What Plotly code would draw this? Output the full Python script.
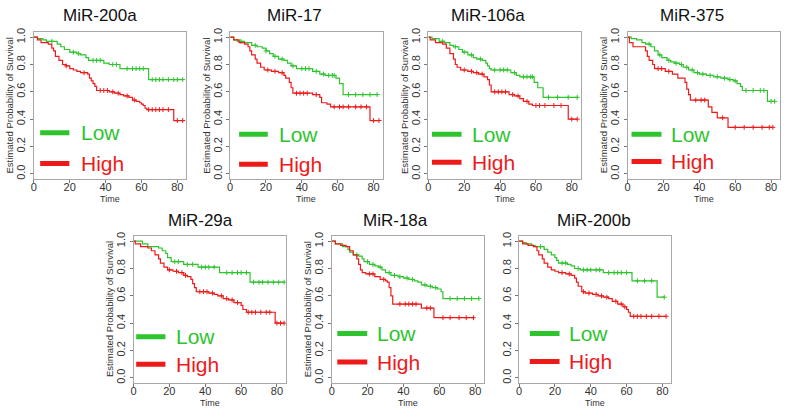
import plotly.graph_objects as go

W, H = 787, 411

titles = ["MiR-200a", "MiR-17", "MiR-106a", "MiR-375", "MiR-29a", "MiR-18a", "MiR-200b"]

# ---- Kaplan-Meier step data (time, survival) per panel ----
low_t = [
    [0, 2, 5, 7, 13, 15, 17, 20, 24, 26, 29, 30.5, 39, 42, 48, 64, 83],
    [0, 2, 4, 8, 12, 15, 18, 20, 22, 24, 27, 30, 32, 34, 37, 46, 50, 53, 59, 61, 63, 82],
    [0, 2, 6, 9, 12, 14, 17, 19, 22, 25, 27, 30, 32, 33, 34, 35, 46, 49, 51, 59, 61, 64, 83],
    [0, 2, 5, 8, 10, 13, 15, 17, 19, 22, 24, 26, 29, 31, 34, 37, 40, 44, 48, 52, 56, 59, 61, 63, 64, 78, 82],
    [0, 5, 8, 14, 16, 18, 19, 21, 28, 36, 48, 65, 84],
    [0, 2, 6, 9, 10, 12, 15, 17, 18, 21, 24, 26, 28, 30, 33, 37, 40, 43, 46, 48, 50, 53, 56, 59, 61, 62, 82],
    [0, 2, 4, 7, 9, 14, 16, 18, 20, 21, 22, 27, 29, 31, 34, 47, 63, 77, 81],
]
low_s = [
    [1, 0.99, 0.98, 0.97, 0.95, 0.93, 0.91, 0.89, 0.88, 0.87, 0.85, 0.83, 0.81, 0.80, 0.77, 0.69, 0.69],
    [1, 0.98, 0.97, 0.96, 0.94, 0.93, 0.92, 0.90, 0.88, 0.86, 0.84, 0.83, 0.81, 0.79, 0.77, 0.75, 0.73, 0.72, 0.70, 0.66, 0.58, 0.58],
    [1, 0.99, 0.97, 0.96, 0.94, 0.93, 0.91, 0.89, 0.87, 0.85, 0.84, 0.83, 0.81, 0.79, 0.77, 0.76, 0.74, 0.72, 0.71, 0.67, 0.63, 0.56, 0.56],
    [1, 0.99, 0.98, 0.96, 0.95, 0.93, 0.90, 0.87, 0.85, 0.83, 0.82, 0.81, 0.80, 0.78, 0.76, 0.74, 0.73, 0.72, 0.71, 0.70, 0.69, 0.68, 0.66, 0.64, 0.61, 0.53, 0.53],
    [1, 0.98, 0.96, 0.95, 0.93, 0.91, 0.88, 0.85, 0.83, 0.81, 0.77, 0.70, 0.70],
    [1, 0.98, 0.96, 0.94, 0.92, 0.90, 0.89, 0.87, 0.85, 0.83, 0.82, 0.81, 0.79, 0.77, 0.75, 0.74, 0.73, 0.72, 0.71, 0.70, 0.68, 0.67, 0.66, 0.65, 0.63, 0.58, 0.58],
    [1, 0.99, 0.98, 0.97, 0.96, 0.94, 0.92, 0.90, 0.88, 0.86, 0.84, 0.83, 0.82, 0.80, 0.79, 0.77, 0.71, 0.59, 0.59],
]
high_t = [
    [0, 2, 4, 8, 10, 11, 12, 14, 16, 18, 20, 22, 24, 26, 30, 31, 32, 33, 34, 35, 42, 45, 48, 50, 53, 55, 57, 59, 60, 61, 62, 63, 78, 83],
    [0, 2, 5, 8, 10, 11, 12, 14, 15, 17, 19, 23, 27, 30, 31, 33, 34, 35, 46, 50, 51, 54, 56, 78, 83],
    [0, 1, 4, 8, 10, 12, 14, 15, 16, 18, 22, 25, 28, 31, 33, 34, 35, 45, 48, 51, 53, 56, 58, 78, 83],
    [0, 1, 3, 10, 11, 12, 14, 15, 21, 25, 28, 32, 33, 34, 35, 45, 47, 50, 56, 81],
    [0, 1, 4, 8, 10, 12, 14, 15, 17, 19, 22, 25, 28, 30, 32, 33, 34, 35, 42, 45, 47, 50, 53, 56, 60, 61, 63, 79, 84],
    [0, 2, 5, 8, 10, 12, 14, 15, 16, 17, 19, 24, 27, 30, 31, 32, 33, 34, 50, 57, 79],
    [0, 2, 5, 8, 10, 11, 13, 14, 16, 18, 20, 22, 26, 29, 31, 32, 33, 35, 37, 41, 44, 47, 50, 52, 55, 58, 60, 61, 62, 82],
]
high_s = [
    [1, 0.98, 0.96, 0.95, 0.92, 0.90, 0.86, 0.83, 0.80, 0.79, 0.77, 0.76, 0.75, 0.74, 0.73, 0.70, 0.68, 0.66, 0.64, 0.61, 0.60, 0.59, 0.58, 0.57, 0.56, 0.54, 0.53, 0.52, 0.51, 0.50, 0.48, 0.47, 0.39, 0.39],
    [1, 0.98, 0.96, 0.95, 0.93, 0.90, 0.87, 0.84, 0.81, 0.78, 0.76, 0.75, 0.74, 0.72, 0.70, 0.67, 0.63, 0.59, 0.58, 0.56, 0.52, 0.51, 0.49, 0.39, 0.39],
    [1, 0.98, 0.96, 0.95, 0.92, 0.88, 0.84, 0.80, 0.78, 0.76, 0.75, 0.74, 0.73, 0.71, 0.69, 0.65, 0.60, 0.58, 0.57, 0.55, 0.53, 0.51, 0.50, 0.40, 0.40],
    [1, 0.96, 0.93, 0.90, 0.86, 0.83, 0.80, 0.77, 0.75, 0.73, 0.70, 0.67, 0.62, 0.58, 0.54, 0.49, 0.45, 0.41, 0.34, 0.34],
    [1, 0.98, 0.96, 0.95, 0.93, 0.90, 0.87, 0.84, 0.81, 0.79, 0.78, 0.77, 0.75, 0.74, 0.72, 0.69, 0.66, 0.63, 0.62, 0.61, 0.60, 0.58, 0.57, 0.55, 0.53, 0.50, 0.48, 0.40, 0.40],
    [1, 0.98, 0.97, 0.96, 0.93, 0.90, 0.87, 0.83, 0.79, 0.77, 0.76, 0.74, 0.72, 0.71, 0.70, 0.66, 0.60, 0.54, 0.51, 0.44, 0.44],
    [1, 0.98, 0.97, 0.96, 0.93, 0.90, 0.87, 0.84, 0.81, 0.79, 0.78, 0.77, 0.76, 0.75, 0.73, 0.70, 0.67, 0.63, 0.62, 0.61, 0.60, 0.59, 0.58, 0.56, 0.54, 0.52, 0.50, 0.48, 0.45, 0.45],
]
# censoring times (plotted as small + marks on the curves)
low_cens = [
    [10, 22, 25, 33, 35, 37, 44, 46, 52, 55, 57, 59, 61, 66, 68, 70, 72, 75, 78, 80, 83],
    [6, 14, 20, 25, 29, 35, 40, 42, 44, 48, 52, 55, 57, 58, 66, 70, 74, 78, 82],
    [8, 15, 20, 24, 29, 37, 40, 42, 44, 48, 53, 55, 57, 58, 67, 72, 78, 83],
    [12, 18, 23, 27, 30, 33, 36, 39, 42, 46, 50, 54, 57, 60, 66, 70, 74, 76, 80, 82],
    [23, 25, 30, 33, 38, 40, 42, 45, 52, 55, 58, 60, 63, 67, 70, 72, 75, 78, 81, 84],
    [14, 20, 23, 27, 32, 35, 38, 42, 45, 52, 55, 58, 66, 70, 74, 78, 82],
    [12, 24, 26, 33, 36, 38, 40, 43, 45, 50, 53, 55, 57, 60, 66, 70, 74, 81],
]
high_cens = [
    [18, 28, 37, 39, 41, 44, 47, 52, 56, 64, 66, 68, 70, 72, 75, 80, 83],
    [21, 25, 29, 37, 39, 41, 43, 48, 58, 61, 63, 66, 70, 73, 76, 80, 83],
    [20, 24, 27, 30, 37, 39, 41, 43, 47, 50, 55, 60, 62, 65, 70, 74, 80, 83],
    [17, 19, 23, 38, 41, 43, 53, 60, 65, 70, 75, 79, 81],
    [20, 24, 27, 29, 37, 39, 41, 44, 49, 52, 55, 58, 64, 66, 68, 71, 74, 76, 80, 82, 84],
    [21, 23, 29, 38, 41, 43, 45, 47, 53, 55, 62, 66, 71, 75, 79],
    [24, 28, 36, 39, 43, 46, 49, 54, 57, 59, 64, 66, 68, 71, 74, 78, 82],
]

x_ticks = [0, 20, 40, 60, 80]
y_ticks = [0.0, 0.2, 0.4, 0.6, 0.8, 1.0]

# ---- layout geometry (pixels) ----
boxes = [  # x0, x1, y0(top), y1(bottom)
    (31, 184, 28, 177),
    (228, 381, 28, 177),
    (427, 580, 28, 177),
    (627, 780, 28, 177),
    (131, 284, 234, 383),
    (330, 483, 234, 383),
    (518, 671, 234, 383),
]
title_pos = [(97, 12), (293, 12), (487, 12), (692, 12), (198, 219), (394, 219), (593, 219)]
leg_low_y = [0.30, 0.29, 0.29, 0.29, 0.30, 0.325, 0.325]
leg_high_y = [0.075, 0.07, 0.085, 0.09, 0.10, 0.115, 0.12]
leg_x0 = [3.5, 5.0, 2.0, 2.2, 1.5, 3.1, 6.0]
leg_x1 = [19.8, 21.0, 18.5, 18.9, 17.8, 19.8, 22.6]
leg_tx = [25.0, 26.0, 23.0, 23.0, 22.5, 24.0, 27.0]
show_ytitle = [True, True, True, True, True, True, False]

GREEN = "#2EC42E"
RED = "#EE1A1A"
FONT = "Arial, Liberation Sans, Helvetica, sans-serif"


def step_at(ts, ss, t):
    v = ss[0]
    for ti, si in zip(ts, ss):
        if ti <= t:
            v = si
    return v


fig = go.Figure()
annotations = []
shapes = []
layout_axes = {}

for i in range(7):
    k = "" if i == 0 else str(i + 1)
    xa, ya = "x" + k, "y" + k
    x0, x1, y0, y1 = boxes[i]
    for ts, ss, cens, col in ((low_t[i], low_s[i], low_cens[i], GREEN),
                              (high_t[i], high_s[i], high_cens[i], RED)):
        fig.add_trace(go.Scatter(x=ts, y=ss, mode="lines", line=dict(color=col, width=1.2, shape="hv"),
                                 xaxis=xa, yaxis=ya, showlegend=False, hoverinfo="skip"))
        fig.add_trace(go.Scatter(x=cens, y=[step_at(ts, ss, c) for c in cens], mode="markers",
                                 marker=dict(symbol="cross-thin", size=3.5, line=dict(color=col, width=1)),
                                 xaxis=xa, yaxis=ya, showlegend=False, hoverinfo="skip"))
    layout_axes["xaxis" + k] = dict(
        domain=[x0 / W, x1 / W], range=[0, 85], anchor=ya, tickvals=x_ticks,
        ticks="outside", ticklen=3, tickcolor="#777", showline=True, mirror=True,
        linecolor="#a8a8a8", linewidth=1, showgrid=False, zeroline=False, ticklabelstandoff=-5,
        tickfont=dict(size=11, color="#333", family=FONT), fixedrange=True)
    layout_axes["yaxis" + k] = dict(
        domain=[1 - y1 / H, 1 - y0 / H], range=[-0.04, 1.04], anchor=xa, tickvals=y_ticks,
        tickformat=".1f", tickangle=-90, ticks="outside", ticklen=3, tickcolor="#777",
        showline=True, mirror=True, linecolor="#a8a8a8", linewidth=1, showgrid=False,
        zeroline=False, tickfont=dict(size=11, color="#333", family=FONT), fixedrange=True)

    # title
    tx, ty = title_pos[i]
    annotations.append(dict(text=titles[i], x=tx / W, y=1 - ty / H, xref="paper", yref="paper",
                            showarrow=False, xanchor="center", yanchor="middle",
                            font=dict(size=17, color="#111", family=FONT)))
    # axis titles
    annotations.append(dict(text="Time", x=(x0 + x1) / 2 / W, y=1 - (y1 + 20) / H, xref="paper",
                            yref="paper", showarrow=False, xanchor="center", yanchor="middle",
                            font=dict(size=9, color="#333", family=FONT)))
    if show_ytitle[i]:
        annotations.append(dict(text="Estimated Probability of Survival", x=(x0 - 24) / W,
                                y=1 - (y0 + y1) / 2 / H, xref="paper", yref="paper", textangle=-90,
                                showarrow=False, xanchor="center", yanchor="middle",
                                font=dict(size=9.5, color="#333", family=FONT)))
    # in-plot legend
    for yy, col, lab in ((leg_low_y[i], GREEN, "Low"), (leg_high_y[i], RED, "High")):
        shapes.append(dict(type="line", xref=xa, yref=ya, x0=leg_x0[i], x1=leg_x1[i], y0=yy, y1=yy,
                           line=dict(color=col, width=5)))
        annotations.append(dict(text=lab, x=leg_tx[i], y=yy, xref=xa, yref=ya, showarrow=False,
                                xanchor="left", yanchor="middle",
                                font=dict(size=21, color=col, family=FONT)))

fig.update_layout(width=W, height=H, margin=dict(l=0, r=0, t=0, b=0), autosize=False,
                  paper_bgcolor="white", plot_bgcolor="white", showlegend=False,
                  annotations=annotations, shapes=shapes, **layout_axes)

fig.write_html("out.html", config={"displayModeBar": False},
               post_script="document.body.style.margin='0';document.body.style.overflow='hidden';")
